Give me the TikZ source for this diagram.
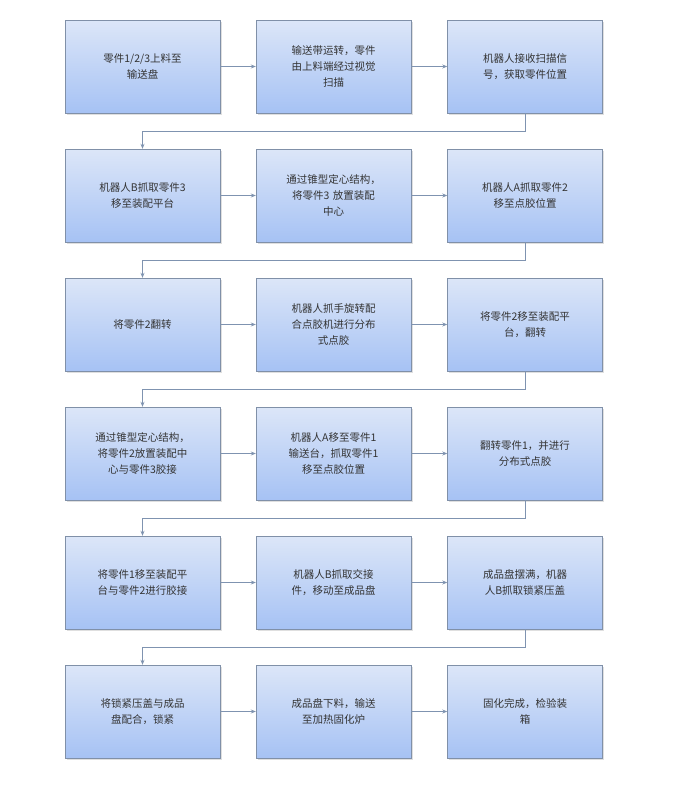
\documentclass[tikz,border=0pt]{standalone}
\usepackage{fontspec}
\setmainfont{Noto Sans CJK SC}
\usetikzlibrary{arrows.meta,shadows}
\definecolor{bt}{HTML}{DCE6F8}
\definecolor{bb}{HTML}{A6C2F4}
\definecolor{bd}{HTML}{8090A8}
\definecolor{ln}{HTML}{7F93B0}
\begin{document}
\begin{tikzpicture}[x=1pt,y=-1pt,
 box/.style={draw=bd,top color=bt,bottom color=bb,minimum width=155pt,minimum height=93pt,text width=140pt,align=center,font=\fontsize{10.5}{16}\selectfont,text=black!80,inner sep=2pt,drop shadow={shadow xshift=1.5pt,shadow yshift=-1.5pt,opacity=0.25}},
 arr/.style={draw=ln,line width=0.8pt,-{Stealth[length=5pt,width=4pt]}}]
\useasboundingbox[fill=white] (0,0) rectangle (685,787);
\def\cx{142.5}\def\cy{334}\def\cz{525}
\foreach \r/\y in {1/66.5,2/195.5,3/324.5,4/453.5,5/582.5,6/711.5}{
  \coordinate (r\r) at (0,\y);}
\node[box] (a1) at (142.5,66.5) {零件1/2/3上料至\\输送盘};
\node[box] (b1) at (333.5,66.5) {输送带运转，零件\\由上料端经过视觉\\扫描};
\node[box] (c1) at (525,66.5) {机器人接收扫描信\\号，获取零件位置};
\node[box] (a2) at (142.5,195.5) {机器人B抓取零件3\\移至装配平台};
\node[box] (b2) at (333.5,195.5) {通过锥型定心结构，\\将零件3 放置装配\\中心};
\node[box] (c2) at (525,195.5) {机器人A抓取零件2\\移至点胶位置};
\node[box] (a3) at (142.5,324.5) {将零件2翻转};
\node[box] (b3) at (333.5,324.5) {机器人抓手旋转配\\合点胶机进行分布\\式点胶};
\node[box] (c3) at (525,324.5) {将零件2移至装配平\\台，翻转};
\node[box] (a4) at (142.5,453.5) {通过锥型定心结构，\\将零件2放置装配中\\心与零件3胶接};
\node[box] (b4) at (333.5,453.5) {机器人A移至零件1\\输送台，抓取零件1\\移至点胶位置};
\node[box] (c4) at (525,453.5) {翻转零件1，并进行\\分布式点胶};
\node[box] (a5) at (142.5,582.5) {将零件1移至装配平\\台与零件2进行胶接};
\node[box] (b5) at (333.5,582.5) {机器人B抓取交接\\件，移动至成品盘};
\node[box] (c5) at (525,582.5) {成品盘摆满，机器\\人B抓取锁紧压盖};
\node[box] (a6) at (142.5,711.5) {将锁紧压盖与成品\\盘配合，锁紧};
\node[box] (b6) at (333.5,711.5) {成品盘下料，输送\\至加热固化炉};
\node[box] (c6) at (525,711.5) {固化完成，检验装\\箱};
\foreach \r in {1,...,6}{
  \draw[arr] (a\r) -- (b\r);
  \draw[arr] (b\r) -- (c\r);}
\foreach \r/\n in {1/2,2/3,3/4,4/5,5/6}{
  \draw[arr] (c\r.south) -- ++(0,18) -| (a\n.north);}
\end{tikzpicture}
\end{document}
